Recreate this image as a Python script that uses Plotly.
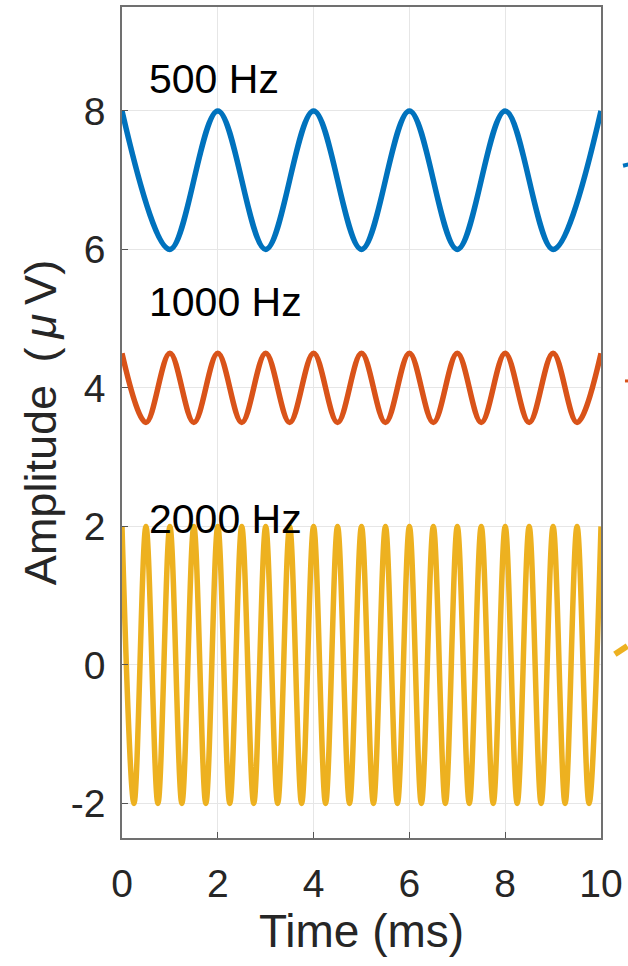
import plotly.graph_objects as go

# Extrema (peaks/troughs), in ms and µV
t_500 = [0, 1, 2, 3, 4, 5, 6, 7, 8, 9, 10]
y_500 = [8, 6, 8, 6, 8, 6, 8, 6, 8, 6, 8]

t_1000 = [0, 0.5, 1, 1.5, 2, 2.5, 3, 3.5, 4, 4.5, 5, 5.5, 6, 6.5, 7, 7.5, 8, 8.5, 9, 9.5, 10]
y_1000 = [4.5, 3.5, 4.5, 3.5, 4.5, 3.5, 4.5, 3.5, 4.5, 3.5, 4.5,
          3.5, 4.5, 3.5, 4.5, 3.5, 4.5, 3.5, 4.5, 3.5, 4.5]

t_2000 = [0, 0.25, 0.5, 0.75, 1, 1.25, 1.5, 1.75, 2, 2.25, 2.5, 2.75, 3, 3.25, 3.5, 3.75,
          4, 4.25, 4.5, 4.75, 5, 5.25, 5.5, 5.75, 6, 6.25, 6.5, 6.75, 7, 7.25, 7.5, 7.75,
          8, 8.25, 8.5, 8.75, 9, 9.25, 9.5, 9.75, 10]
y_2000 = [2, -2, 2, -2, 2, -2, 2, -2, 2, -2, 2, -2, 2, -2, 2, -2,
          2, -2, 2, -2, 2, -2, 2, -2, 2, -2, 2, -2, 2, -2, 2, -2,
          2, -2, 2, -2, 2, -2, 2, -2, 2]

labels = ["500 Hz", "1000 Hz", "2000 Hz"]
label_x = [0.52, 0.52, 0.52]
label_y = [8.46, 5.24, 2.1]

x_ticks = [0, 2, 4, 6, 8, 10]
x_ticktext = ["0", "2", "4", "6", "8", "10"]
y_ticks = [-2, 0, 2, 4, 6, 8]
y_ticktext = ["-2", "0", "2", "4", "6", "8"]

FONT = "Liberation Sans, Arial, sans-serif"
TXT = "#262626"

fig = go.Figure()
for t, y, c in [(t_500, y_500, "#0072BD"), (t_1000, y_1000, "#D95319"), (t_2000, y_2000, "#EDB120")]:
    fig.add_trace(go.Scatter(x=t, y=y, mode="lines",
                             line=dict(color=c, width=5.5, shape="spline", smoothing=1),
                             showlegend=False, hoverinfo="skip"))

for txt, x, y in zip(labels, label_x, label_y):
    fig.add_annotation(x=x, y=y, text=txt, showarrow=False, xanchor="left", yanchor="middle",
                       font=dict(family=FONT, size=41, color="black"))

# clipped arrow fragments at the right edge
fig.add_shape(type="line", xref="paper", yref="paper", x0=1.046, x1=1.06, y0=0.809, y1=0.811,
              line=dict(color="#0072BD", width=4))
fig.add_shape(type="line", xref="paper", yref="paper", x0=1.05, x1=1.06, y0=0.55, y1=0.55,
              line=dict(color="#D95319", width=3))
fig.add_shape(type="line", xref="paper", yref="paper", x0=1.029, x1=1.055, y0=0.221, y1=0.231,
              line=dict(color="#EDB120", width=6))

axis_common = dict(showline=True, linecolor="#707070", linewidth=1.5, mirror=True,
                   showgrid=True, gridcolor="#e6e6e6", gridwidth=1,
                   ticks="inside", ticklen=6, tickcolor="#555", zeroline=False,
                   tickfont=dict(family=FONT, size=39, color=TXT))

fig.update_xaxes(range=[0, 10], tickvals=x_ticks, ticktext=x_ticktext, ticklabelstandoff=10,
                 title=dict(text="Time (ms)", font=dict(family=FONT, size=46, color=TXT), standoff=8),
                 **axis_common)
fig.update_yaxes(range=[-2.5, 9.5], tickvals=y_ticks, ticktext=y_ticktext, ticklabelstandoff=7,
                 title=dict(text="Amplitude\u2002(\u2009<i>μ</i>\u2009V)",
                            font=dict(family=FONT, size=45, color=TXT), standoff=0),
                 **axis_common)

fig.update_layout(width=628, height=966, margin=dict(l=122, r=25, t=5, b=128),
                  plot_bgcolor="white", paper_bgcolor="white")

fig.write_html("out.html")
